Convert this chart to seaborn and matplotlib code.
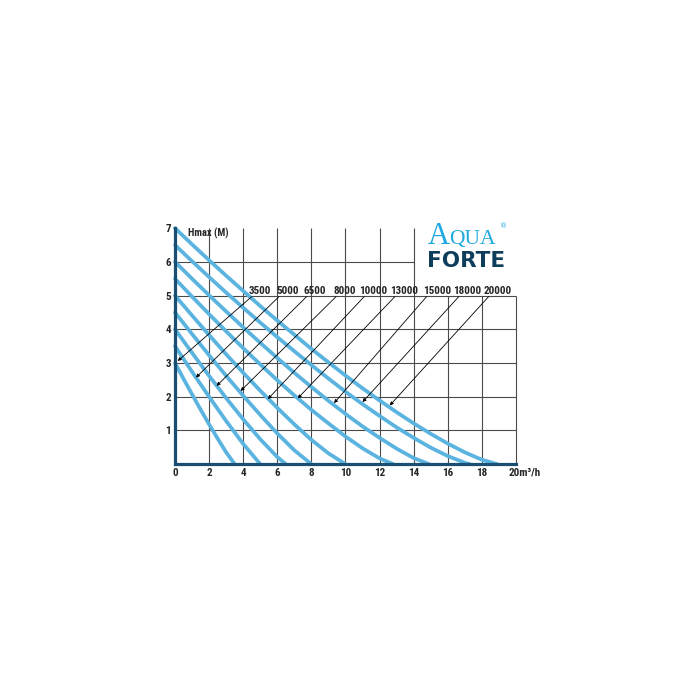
import seaborn as sns
import matplotlib.pyplot as plt
from matplotlib import font_manager

# --- Data (flow in m3/h, head in m) ---
pump_names = ["3500", "5000", "6500", "8000", "10000", "13000", "15000", "18000", "20000"]

flow_3500 = [0, 0.5, 1, 1.5, 2, 2.5, 3, 3.5]
head_3500 = [3.0, 2.53, 2.07, 1.62, 1.18, 0.76, 0.35, 0]

flow_5000 = [0, 1, 2, 3, 4, 5]
head_5000 = [3.5, 2.74, 2.0, 1.28, 0.6, 0]

flow_6500 = [0, 1, 2, 3, 4, 5, 6, 6.5]
head_6500 = [4.0, 3.30, 2.62, 1.96, 1.33, 0.74, 0.21, 0]

flow_8000 = [0, 1, 2, 3, 4, 5, 6, 7, 8]
head_8000 = [4.5, 3.86, 3.23, 2.62, 2.03, 1.46, 0.91, 0.41, 0]

flow_10000 = [0, 1, 2, 3, 4, 5, 6, 7, 8, 9, 10]
head_10000 = [5.0, 4.41, 3.83, 3.26, 2.71, 2.18, 1.67, 1.18, 0.72, 0.32, 0]

flow_13000 = [0, 1, 2, 3, 4, 5, 6, 7, 8, 9, 10, 11, 12, 12.8]
head_13000 = [5.5, 4.97, 4.45, 3.94, 3.44, 2.96, 2.49, 2.04, 1.61, 1.21, 0.82, 0.47, 0.17, 0]

flow_15000 = [0, 1, 2, 3, 4, 5, 6, 7, 8, 9, 10, 11, 12, 13, 14, 14.9]
head_15000 = [6.0, 5.50, 5.01, 4.53, 4.06, 3.60, 3.15, 2.71, 2.29, 1.88, 1.49, 1.12, 0.78, 0.46, 0.18, 0]

flow_18000 = [0, 1, 2, 3, 4, 5, 6, 7, 8, 9, 10, 11, 12, 13, 14, 15, 16, 17, 17.3]
head_18000 = [6.5, 6.02, 5.55, 5.09, 4.64, 4.20, 3.77, 3.35, 2.94, 2.54, 2.15, 1.78, 1.43, 1.09,
              0.78, 0.49, 0.24, 0.04, 0]

flow_20000 = [0, 1, 2, 3, 4, 5, 6, 7, 8, 9, 10, 11, 12, 13, 14, 15, 16, 17, 18, 18.9]
head_20000 = [7.0, 6.52, 6.05, 5.59, 5.14, 4.69, 4.26, 3.84, 3.42, 3.02, 2.63, 2.25, 1.89, 1.54,
              1.21, 0.90, 0.61, 0.35, 0.13, 0]

flows = [flow_3500, flow_5000, flow_6500, flow_8000, flow_10000,
         flow_13000, flow_15000, flow_18000, flow_20000]
heads = [head_3500, head_5000, head_6500, head_8000, head_10000,
         head_13000, head_15000, head_18000, head_20000]

x_ticks = [0, 2, 4, 6, 8, 10, 12, 14, 16, 18]
y_ticks = [1, 2, 3, 4, 5, 6, 7]

# --- Label / arrow placement ---
label_x = [4.98, 6.63, 8.21, 9.97, 11.61, 13.46, 15.37, 17.16, 18.91]
tail_x = [4.5, 6.1, 7.72, 9.45, 11.1, 12.9, 14.76, 16.65, 18.4]
tip_xy = [(0.16, 3.06), (1.23, 2.57), (2.44, 2.32), (3.85, 2.17), (5.45, 1.93),
          (7.2, 1.95), (9.33, 1.81), (11.0, 1.84), (12.6, 1.74)]

curve_color = "#5ab4df"
axis_color = "#1b4f72"
grid_color = "#4a4a4a"

# pick a condensed bold face if one is around, else plain DejaVu
bold_faces = {f.name for f in font_manager.fontManager.ttflist if f.weight in (600, 700, 800, "bold")}
candidates = ["Roboto Condensed", "Fira Sans Condensed", "Barlow Condensed", "PT Sans Narrow",
              "Archivo Narrow", "Open Sans Condensed", "Liberation Sans Narrow",
              "IBM Plex Sans Condensed", "Encode Sans Condensed", "Asap Condensed"]
cond = next((c for c in candidates if c in bold_faces), None)
label_font = [cond, "DejaVu Sans"] if cond else ["DejaVu Sans"]
small = 8 if cond else 6.5

sns.set_theme(style="white")
plt.rcParams["font.family"] = label_font

fig = plt.figure(figsize=(7, 7), dpi=100)
ax = fig.add_axes([0.25, 0.337, 0.487, 0.337])
ax.set_xlim(0, 20)
ax.set_ylim(0, 7)

# grid, partly cut away for the logo
ax.vlines([2, 4, 6, 8, 10, 12, 14, 16, 18, 20], 0, [7, 7, 7, 7, 7, 7, 7, 5, 5, 5],
          color=grid_color, lw=0.8, zorder=1, clip_on=False)
ax.hlines([1, 2, 3, 4, 5, 6], 0, [20, 20, 20, 20, 20, 14],
          color=grid_color, lw=0.8, zorder=1, clip_on=False)

for fl, hd in zip(flows, heads):
    sns.lineplot(x=fl, y=hd, ax=ax, color=curve_color, lw=2.7, sort=False,
                 estimator=None, zorder=3, clip_on=False)

for name, lx, tx, tip in zip(pump_names, label_x, tail_x, tip_xy):
    ax.text(lx, 5.15, name, ha="center", va="center", fontsize=small,
            fontweight="bold", zorder=5)
    ax.annotate("", xy=tip, xytext=(tx, 4.97),
                arrowprops=dict(arrowstyle="-|>", lw=0.6, color="black",
                                mutation_scale=5, shrinkA=0, shrinkB=0),
                zorder=4)

ax.text(0.76, 6.84, "Hmax (M)", ha="left", va="center", fontsize=small - 0.5,
        fontweight="bold")

for side in ["top", "right"]:
    ax.spines[side].set_visible(False)
for side in ["left", "bottom"]:
    ax.spines[side].set_color(axis_color)
    ax.spines[side].set_linewidth(2.3)
    ax.spines[side].set_zorder(6)

ax.set_xticks(x_ticks)
ax.set_xticklabels([str(v) for v in x_ticks], fontsize=small, fontweight="bold")
ax.set_yticks(y_ticks)
ax.set_yticklabels([str(v) for v in y_ticks], fontsize=small, fontweight="bold")
ax.tick_params(length=0, pad=3)
ax.text(19.55, -0.26, "20m³/h", ha="left", va="center", fontsize=small,
        fontweight="bold")

# logo
serif = ["Liberation Serif", "DejaVu Serif"]
fig.text(0.611, 0.651, "A", color="#1fa9e1", fontsize=22, family=serif,
         ha="left", va="baseline")
fig.text(0.642, 0.651, "QUA", color="#1fa9e1", fontsize=15.5, family=serif,
         ha="left", va="baseline")
fig.text(0.714, 0.677, "®", color="#1fa9e1", fontsize=5, family=["DejaVu Sans"],
         ha="left", va="center")
fig.text(0.610, 0.618, "FORTE", color="#0f3d5c", fontsize=15.5,
         fontweight="heavy", family=["DejaVu Sans"], ha="left", va="baseline")

fig.savefig("out.png", dpi=100)
